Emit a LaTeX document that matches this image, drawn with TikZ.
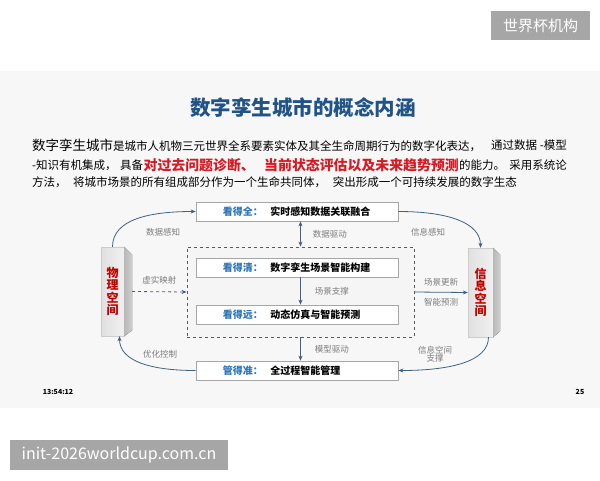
\documentclass[tikz,border=0pt]{standalone}
\usepackage{fontspec}
\setmainfont{Noto Sans CJK SC}
\usepackage{xcolor}
\usetikzlibrary{arrows.meta, positioning, shadows}

\definecolor{titleblue}{RGB}{33,84,134}
\definecolor{tagblue}{RGB}{46,117,182}
\definecolor{flowblue}{RGB}{62,98,130}
\definecolor{labelgray}{RGB}{125,125,125}
\definecolor{hotred}{RGB}{215,25,35}
\definecolor{pillarred}{RGB}{192,0,0}
\definecolor{slidebg}{RGB}{247,247,247}
\definecolor{markgray}{RGB}{166,166,166}

\newcommand{\fsz}[1]{\fontsize{#1}{#1}\selectfont}

\begin{document}
\begin{tikzpicture}[x=1pt, y=-1pt, >={Stealth[length=5pt,width=4pt]},
  stagebox/.style={draw=gray!70, line width=0.7pt, fill=white, minimum width=202pt,
    minimum height=19pt, inner sep=0pt,
    drop shadow={opacity=0.25, shadow xshift=1pt, shadow yshift=-1pt}},
  tag/.style={inner sep=0pt, font=\fsz{10}\bfseries, text=tagblue},
  what/.style={inner sep=0pt, font=\fsz{10}\bfseries},
  flow/.style={flowblue, line width=0.8pt, ->},
  note/.style={inner sep=0pt, font=\fsz{8.5}, text=labelgray, align=center},
  body/.style={inner sep=0pt, font=\fsz{11.5}, anchor=west},
  hot/.style={inner sep=0pt, font=\fsz{13.9}\bfseries, text=hotred, anchor=west},
  pillar/.style={minimum height=89pt, inner sep=0pt, left color=gray!24,
    right color=gray!12, draw=gray!40, line width=0.3pt,
    font=\fontsize{12}{12.4}\selectfont\bfseries, text=pillarred, align=center},
  stamp/.style={fill=markgray, text=white, inner sep=0pt}]
  \useasboundingbox (0,0) rectangle (600,480);
  \fill[white] (0,0) rectangle (600,480);
  \fill[slidebg] (0,71) rectangle (600,408);
  % Watermarks
  \node[stamp, minimum width=99pt, minimum height=29pt, font=\fsz{15}] (corner) at (540.5,25.5) {世界杯机构};
  \node[stamp, minimum width=218pt, minimum height=30pt, font=\fsz{16}] (site) at (119,455) {init-2026worldcup.com.cn};
  % Title
  \node[inner sep=0pt, font=\fsz{20.5}\bfseries, text=titleblue] (title) at (303,108) {数字孪生城市的概念内涵};
  % Text
  \node[body] (l1a) at (32,145) {{\fsz{13.5}数字孪生城市}是城市人机物三元世界全系要素实体及其全生命周期行为的数字化表达，};
  \node[body, anchor=east] (l1b) at (567,145) {通过数据 -模型};
  \node[body] (l2a) at (32,165) {-知识有机集成，};
  \node[body] (l2b) at (120,165) {具备};
  \node[hot] (l2c) at (l2b.east) {对过去问题诊断、};
  \node[hot] (l2d) at (264,165) {当前状态评估以及未来趋势预测};
  \node[body] (l2e) at (l2d.east) {的能力。};
  \node[body, anchor=east] (l2f) at (567,165) {采用系统论};
  \node[body] (l3a) at (32,182) {方法，};
  \node[body] (l3b) at (73,182) {将城市场景的所有组成部分作为一个生命共同体，};
  \node[body, anchor=east] (l3c) at (517,182) {突出形成一个可持续发展的数字生态};
  % Twin space
  \node[draw=black!65, dashed, line width=0.8pt, fill=gray!8, minimum width=227pt,
    minimum height=90pt, inner sep=0pt] (twin) at (300.5,292) {};
  % Stages
  \node[stagebox] (quan) at (297,211.5) {};
  \node[tag, right=27pt of quan.west] (quantag) {看得全：};
  \node[what, right=7pt of quantag] (quantxt) {实时感知数据关联融合};
  \node[stagebox] (qing) at (297,267.5) {};
  \node[tag, right=27pt of qing.west] (qingtag) {看得清：};
  \node[what, right=7pt of qingtag] (qingtxt) {数字孪生场景智能构建};
  \node[stagebox] (yuan) at (297,314.5) {};
  \node[tag, right=27pt of yuan.west] (yuantag) {看得远：};
  \node[what, right=7pt of yuantag] (yuantxt) {动态仿真与智能预测};
  \node[stagebox] (zhun) at (297,370.5) {};
  \node[tag, right=27pt of zhun.west] (zhuntag) {管得准：};
  \node[what, right=7pt of zhuntag] (zhuntxt) {全过程智能管理};
  % Pillars
  \node[pillar, minimum width=23pt] (wuli) at (112.5,291.5) {物\\理\\空\\间};
  \fill[left color=gray!55, right color=gray!38] (wuli.north east) -- ++(8,8)
    -- ([shift={(8,-6)}]wuli.south east) -- (wuli.south east) -- cycle;
  \node[pillar, minimum width=25pt] (xinxi) at (480.5,292.5) {信\\息\\空\\间};
  \fill[left color=gray!55, right color=gray!38] (xinxi.north east) -- ++(7,7)
    -- ([shift={(7,-6)}]xinxi.south east) -- (xinxi.south east) -- cycle;
  % Loops
  \draw[flow] (wuli.north) .. controls +(0,-28) and +(-45,0) .. (quan.west);
  \node[note] (sense) at (163,232) {数据感知};
  \draw[flow] (quan.east) .. controls +(50,0) and +(0,-25) .. (xinxi.north);
  \node[note] (info) at (428,232) {信息感知};
  \draw[flow] ([xshift=8pt]xinxi.south) .. controls +(0,25) and +(50,0) .. (zhun.east);
  \node[note] (support) at (435,354) {信息空间\\支撑};
  \draw[flow] (zhun.west) .. controls +(-45,0) and +(0,25) .. ([xshift=7pt]wuli.south);
  \node[note] (control) at (160,354) {优化控制};
  % Mapping
  \draw[flow, dashed] ([xshift=8pt]wuli.east) -- (twin.west)
    node[note, midway, above=7pt] (mapping) {虚实映射};
  \draw[flow] (twin.east) -- (xinxi.west)
    node[note, midway, above=6pt] (update) {场景更新}
    node[note, midway, below=6pt] (predict) {智能预测};
  % Inner arrows
  \draw[flow, <->] (twin.north |- quan.south) -- (twin.north)
    node[note, midway, right=12pt] (drive) {数据驱动};
  \draw[flow] (twin.north |- qing.south) -- (twin.north |- yuan.north)
    node[note, midway, right=14pt] (scene) {场景支撑};
  \draw[flow] (twin.south) -- (twin.south |- zhun.north)
    node[note, midway, right=14pt] (model) {模型驱动};
  % Footer
  \node[inner sep=0pt, font=\fsz{7}\bfseries] (clock) at (58,392) {13:54:12};
  \node[inner sep=0pt, font=\fsz{7}\bfseries] (page) at (580,392) {25};
\end{tikzpicture}
\end{document}
